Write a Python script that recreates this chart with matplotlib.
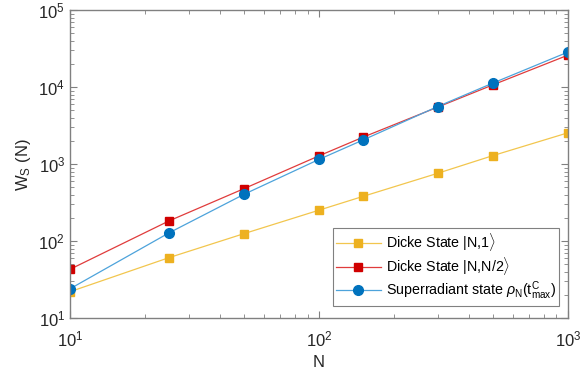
import numpy as np
import matplotlib
matplotlib.use('Agg')
import matplotlib.pyplot as plt

plt.rcParams['font.family'] = ['Liberation Sans', 'DejaVu Sans']
plt.rcParams['mathtext.fontset'] = 'custom'
plt.rcParams['mathtext.rm'] = 'Liberation Sans'
plt.rcParams['mathtext.it'] = 'Liberation Sans:italic'

# data
n_vals = [10, 25, 50, 100, 150, 300, 500, 1000]
dicke_1 = [22, 61, 125, 252, 380, 760, 1290, 2550]
dicke_half = [43, 183, 480, 1280, 2230, 5500, 10700, 26000]
superrad = [24, 128, 405, 1150, 2050, 5600, 11300, 28500]

yellow = '#EDB120'
red = '#D00000'
blue = '#0072BD'

fig = plt.figure(figsize=(5.83, 3.76), dpi=100)
ax = fig.add_axes([0.120, 0.154, 0.854, 0.819])

ax.plot(n_vals, dicke_1, color='#F2C64E', lw=0.9, marker='s', ms=5.5,
        mfc=yellow, mec=yellow, label=r'Dicke State $|$N,1$\rangle$')
ax.plot(n_vals, dicke_half, color='#E03C3C', lw=0.9, marker='s', ms=5.5,
        mfc=red, mec=red, label=r'Dicke State $|$N,N/2$\rangle$')
ax.plot(n_vals, superrad, color='#4DA3DB', lw=0.9, marker='o', ms=7,
        mfc=blue, mec=blue,
        label=r'Superradiant state $\rho_{\rm N}(\rm t^{C}_{max})$')

ax.set_xscale('log')
ax.set_yscale('log')
ax.set_xlim(10, 1000)
ax.set_ylim(10, 1e5)

ax.set_xlabel('N', fontsize=12, color='#262626', labelpad=4)
ax.set_ylabel(r'W$_{\rm S}$ (N)', fontsize=12, color='#262626')

ax.tick_params(which='both', direction='in', top=True, right=True,
               colors='#808080', labelcolor='#262626', labelsize=12)
ax.tick_params(axis='x', which='major', pad=8)
ax.tick_params(which='major', length=5)
ax.tick_params(which='minor', length=3)
for s in ax.spines.values():
    s.set_color('#808080')
    s.set_linewidth(1.0)

leg = ax.legend(loc='lower right', fontsize=10.3, frameon=True, fancybox=False,
                edgecolor='#808080', framealpha=1, borderpad=0.25,
                labelspacing=0.15, handlelength=3.1, handletextpad=0.35,
                borderaxespad=0, bbox_to_anchor=(0.983, 0.04))
leg.get_frame().set_linewidth(0.8)

fig.savefig('out.png', dpi=100)
